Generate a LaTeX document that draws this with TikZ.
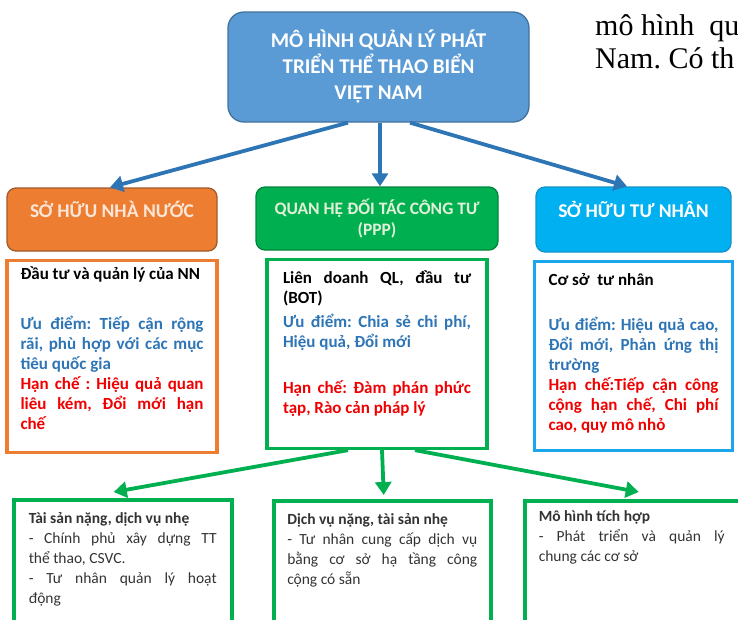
\documentclass[tikz,border=0pt]{standalone}
\usepackage{fontspec}
\setmainfont{Carlito}
\newfontfamily\pageserif{Liberation Serif}
\usepackage{xcolor}
\usetikzlibrary{arrows.meta, positioning}

\definecolor{rootfill}{HTML}{5B9BD5}
\definecolor{rootline}{HTML}{41719C}
\definecolor{flowblue}{HTML}{2E75B6}
\definecolor{stateorange}{HTML}{ED7D31}
\definecolor{stateline}{HTML}{A2592A}
\definecolor{statetext}{HTML}{FBE5D6}
\definecolor{pppgreen}{HTML}{00B050}
\definecolor{pppline}{HTML}{00853C}
\definecolor{ppptext}{HTML}{E2F0D9}
\definecolor{privblue}{HTML}{00B0F0}
\definecolor{privline}{HTML}{1593C9}
\definecolor{privframe}{HTML}{1CA7EC}
\definecolor{prostext}{HTML}{2E75B6}
\definecolor{constext}{HTML}{F00000}
\definecolor{bodytext}{HTML}{333333}

\hyphenpenalty=10000
\exhyphenpenalty=10000
\frenchspacing

\begin{document}
\begin{tikzpicture}[
    x=1pt, y=1pt,
    node distance=7pt,
    head/.style={draw, rounded corners=9pt, line width=1.3pt, align=center,
                 font=\bfseries\fontsize{19.5}{21}\selectfont},
    oneline/.style={text height=12pt, text depth=17pt},
    info/.style={draw, line width=3.5pt, fill=white, align=justify,
                 font=\bfseries\fontsize{17}{20}\selectfont, inner ysep=8pt},
    leaf/.style={draw=pppgreen, line width=3.5pt, anchor=north west, text=bodytext,
                 font=\fontsize{15.5}{20}\selectfont, align=justify,
                 inner ysep=10pt, text height=14pt, text depth=150pt},
    blueflow/.style={draw=flowblue, line width=3.8pt, -{Triangle[length=13pt, width=16pt]}},
    greenflow/.style={draw=pppgreen, line width=3.8pt, -{Triangle[length=13pt, width=16pt]}}
]
\clip (0,0) rectangle (738,-619);

% page text cut by the figure
\node[anchor=base west, inner sep=0pt, font=\pageserif\fontsize{30}{33}\selectfont] (pagea) at (595,-35) {mô hình~~qu};
\node[anchor=base west, inner sep=0pt, font=\pageserif\fontsize{30}{33}\selectfont] (pageb) at (595,-68) {Nam. Có th};

\node[draw=rootline, fill=rootfill, rounded corners=16pt, line width=1.3pt, text=white,
      minimum width=301pt, minimum height=110pt, align=center,
      font=\bfseries\fontsize{21}{26}\selectfont] (root) at (378.5,-67)
      {MÔ HÌNH QUẢN LÝ PHÁT\\TRIỂN THỂ THAO BIỂN\\VIỆT NAM};

\node[head, oneline, draw=stateline, fill=stateorange, text=statetext,
      minimum width=210pt, minimum height=63pt] (nhanuoc) at (112,-219.5) {SỞ HỮU NHÀ NƯỚC};
\node[head, draw=pppline, fill=pppgreen, text=ppptext, font=\bfseries\fontsize{17.5}{21}\selectfont,
      minimum width=242pt, minimum height=63pt] (ppp) at (377,-218.5) {QUAN HỆ ĐỐI TÁC CÔNG TƯ\\(PPP)};
\node[head, oneline, draw=privline, fill=privblue, text=white,
      minimum width=195pt, minimum height=65pt] (tunhan) at (633.5,-219.5) {SỞ HỮU TƯ NHÂN};

\node[info, draw=stateorange, text width=183pt, inner xsep=13.5pt, text height=11pt, text depth=165pt,
      below=of nhanuoc] (nhanuocinfo)
      {Đầu tư và quản lý của NN\par\vspace{30pt}
       \textcolor{prostext}{Ưu điểm: Tiếp cận rộng\linebreak rãi, phù hợp với các mục\linebreak tiêu quốc gia}\par
       \textcolor{constext}{Hạn chế : Hiệu quả quan\linebreak liêu kém, Đổi mới hạn\linebreak chế}};
\node[info, draw=pppgreen, text width=188pt, inner xsep=16pt, text height=16pt, text depth=157pt,
      below=of ppp] (pppinfo)
      {Liên doanh QL, đầu tư\linebreak (BOT)\par\vspace{4pt}
       \textcolor{prostext}{Ưu điểm: Chia sẻ chi phí,\linebreak Hiệu quả, Đổi mới}\par\vspace{26.5pt}
       \textcolor{constext}{Hạn chế: Đàm phán phức\linebreak tạp, Rào cản pháp lý}};
\node[info, draw=privframe, text width=170pt, inner xsep=14pt, text height=16pt, text depth=157pt,
      below=of tunhan] (tunhaninfo)
      {Cơ sở~ tư nhân\par\vspace{25pt}
       \textcolor{prostext}{Ưu điểm: Hiệu quả cao,\linebreak Đổi mới, Phản ứng thị\linebreak trường}\par
       \textcolor{constext}{Hạn chế:Tiếp cận công\linebreak cộng hạn chế, Chi phí\linebreak cao, quy mô nhỏ}};

\node[leaf, text width=188pt, inner xsep=15pt] (taisan) at (12,-498)
      {\textbf{Tài sản nặng, dịch vụ nhẹ}\\- Chính phủ xây dựng TT\linebreak thể thao, CSVC.\par
       - Tư nhân quản lý hoạt\linebreak động};
\node[leaf, text width=190pt, inner xsep=13.5pt] (dichvu) at (272,-499)
      {\textbf{Dịch vụ nặng, tài sản nhẹ}\\- Tư nhân cung cấp dịch vụ\linebreak bằng cơ sở hạ tầng công\linebreak cộng có sẵn};
\node[leaf, text width=200pt, inner xsep=14pt, text height=11pt] (tichhop) at (523,-499)
      {\parbox[t]{186pt}{\textbf{Mô hình tích hợp}\\- Phát triển và quản lý\linebreak chung các cơ sở}};

\foreach \dx/\b/\bx in {-30.5/nhanuoc/-2, 1.5/ppp/3, 31.5/tunhan/-6.5}
  \draw[blueflow] ([xshift=\dx pt]root.south) -- ([xshift=\bx pt]\b.north);

\foreach \dx/\b/\bx/\by in {-29/taisan/-9/6, 5/dichvu/1.5/4, 38/tichhop/0/7}
  \draw[greenflow] ([xshift=\dx pt]pppinfo.south) -- ([xshift=\bx pt, yshift=\by pt]\b.north);
\end{tikzpicture}
\end{document}
